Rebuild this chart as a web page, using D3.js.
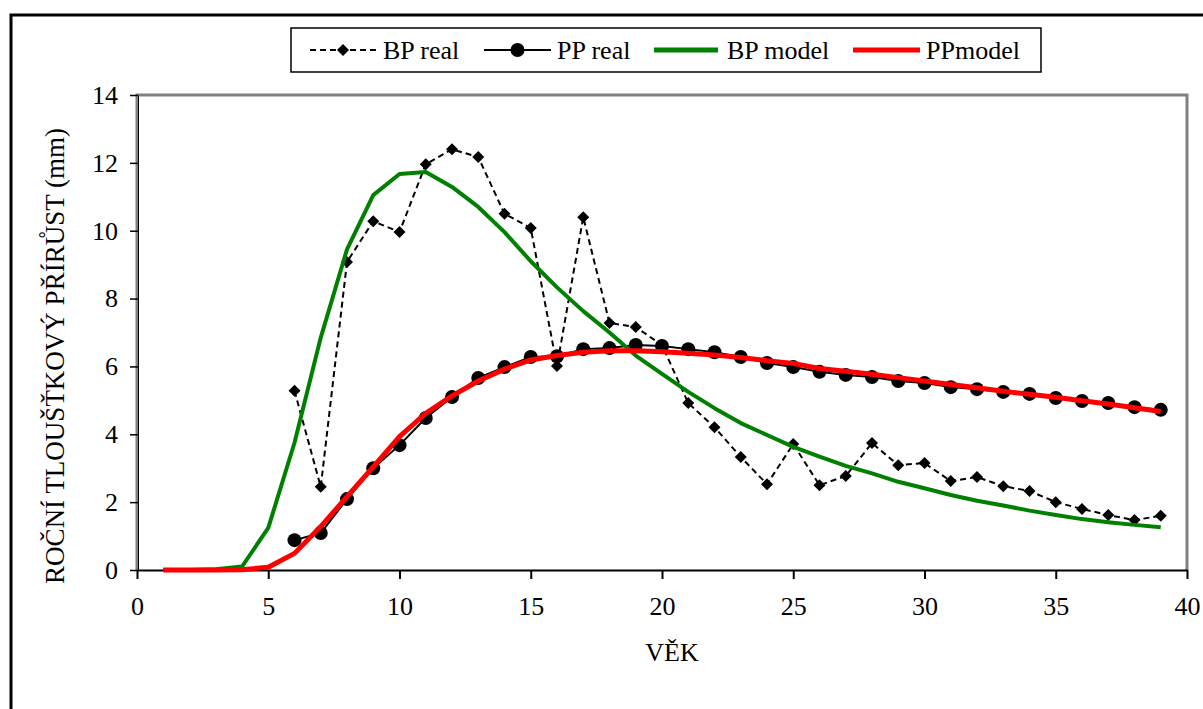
<meta charset="utf-8">
<script src="https://d3js.org/d3.v7.js"></script>
<div id="chart"></div>
<script>
// data
var realAges = [6,7,8,9,10,11,12,13,14,15,16,17,18,19,20,21,22,23,24,25,26,27,28,29,30,31,32,33,34,35,36,37,38,39];
var bpReal = [5.28,2.45,9.08,10.28,9.96,11.96,12.4,12.17,10.5,10.08,6.01,10.4,7.28,7.16,6.63,4.92,4.21,3.33,2.53,3.71,2.5,2.77,3.74,3.09,3.15,2.62,2.74,2.47,2.33,2.0,1.8,1.62,1.47,1.6];
var ppReal = [0.88,1.09,2.09,3.0,3.68,4.48,5.1,5.66,5.98,6.28,6.3,6.51,6.54,6.63,6.6,6.51,6.42,6.28,6.1,5.98,5.84,5.75,5.69,5.57,5.51,5.39,5.33,5.25,5.19,5.07,4.98,4.92,4.8,4.72];

var modelAges = [1,2,3,4,5,6,7,8,9,10,11,12,13,14,15,16,17,18,19,20,21,22,23,24,25,26,27,28,29,30,31,32,33,34,35,36,37,38,39];
var bpModel = [0,0,0.02,0.1,1.24,3.75,6.85,9.45,11.05,11.67,11.73,11.29,10.7,9.96,9.1,8.33,7.63,7.0,6.32,5.78,5.25,4.77,4.33,3.98,3.63,3.34,3.07,2.85,2.6,2.41,2.21,2.04,1.9,1.75,1.62,1.5,1.41,1.33,1.26];
var ppModel = [0,0,0,0.01,0.08,0.49,1.28,2.16,3.04,3.93,4.62,5.13,5.57,5.92,6.19,6.32,6.42,6.46,6.46,6.43,6.39,6.34,6.26,6.17,6.09,5.94,5.86,5.77,5.67,5.57,5.47,5.37,5.27,5.18,5.09,4.99,4.89,4.78,4.67];

var xTicks = [0,5,10,15,20,25,30,35,40];
var yTicks = [0,2,4,6,8,10,12,14];

var legendNames = ["BP real", "PP real", "BP model", "PPmodel"];

d3.select("body").style("margin", "0px");

var svg = d3.select("#chart")
    .append("svg")
    .attr("width", 1203)
    .attr("height", 709)
    .style("display", "block");

// outer frame
svg.append("rect")
    .attr("x", 11).attr("y", 15)
    .attr("width", 1300).attr("height", 800)
    .attr("fill", "white")
    .attr("stroke", "black")
    .attr("stroke-width", 3);

var x = d3.scaleLinear().domain([0, 40]).range([137, 1187]);
var y = d3.scaleLinear().domain([0, 14]).range([570, 95]);

// plot area border (grey)
svg.append("path")
    .attr("d", "M" + x(0) + "," + y(0) + "V" + y(14) + "H" + x(40) + "V" + y(0))
    .attr("fill", "none")
    .attr("stroke", "#808080")
    .attr("stroke-width", 3);

// axes
var xAxis = svg.append("g")
    .attr("transform", "translate(0," + y(0) + ")")
    .call(d3.axisBottom(x).tickValues(xTicks).tickSize(9).tickPadding(18).tickSizeOuter(0));
xAxis.select(".domain").attr("stroke-width", 2);
xAxis.selectAll(".tick line").attr("stroke-width", 2);

var yAxis = svg.append("g")
    .attr("transform", "translate(" + (x(0) + 1) + ",0)")
    .call(d3.axisLeft(y).tickValues(yTicks).tickSize(8).tickPadding(12).tickSizeOuter(0));
yAxis.selectAll(".tick line").attr("stroke-width", 1.5);

var diamond = d3.symbol().type(d3.symbolSquare).size(72);
var line = d3.line().x(function(d) { return x(d.age); }).y(function(d) { return y(d.v); });

var bpRows = realAges.map(function(a, i) { return {age: a, v: bpReal[i]}; });
var ppRows = realAges.map(function(a, i) { return {age: a, v: ppReal[i]}; });

// BP real
svg.append("path")
    .datum(bpRows)
    .attr("d", line)
    .attr("fill", "none")
    .attr("stroke", "black")
    .attr("stroke-width", 2)
    .attr("stroke-dasharray", "6,4");
svg.append("g").selectAll("path")
    .data(bpRows)
    .enter()
    .append("path")
    .attr("d", diamond)
    .attr("transform", function(d) { return "translate(" + x(d.age) + "," + y(d.v) + ") rotate(45)"; })
    .attr("fill", "black");

// PP real
svg.append("path")
    .datum(ppRows)
    .attr("d", line)
    .attr("fill", "none")
    .attr("stroke", "black")
    .attr("stroke-width", 2);
svg.append("g").selectAll("circle")
    .data(ppRows)
    .enter()
    .append("circle")
    .attr("cx", function(d) { return x(d.age); })
    .attr("cy", function(d) { return y(d.v); })
    .attr("r", 7)
    .attr("fill", "black");

// models
var bpModelRows = modelAges.map(function(a, i) { return {age: a, v: bpModel[i]}; });
var ppModelRows = modelAges.map(function(a, i) { return {age: a, v: ppModel[i]}; });

svg.append("path")
    .datum(bpModelRows)
    .attr("d", line)
    .attr("fill", "none")
    .attr("stroke", "#008000")
    .attr("stroke-width", 4)
    .attr("stroke-linejoin", "round");
svg.append("path")
    .datum(ppModelRows)
    .attr("d", line)
    .attr("fill", "none")
    .attr("stroke", "#ff0000")
    .attr("stroke-width", 5)
    .attr("stroke-linejoin", "round");

// legend
var legend = svg.append("g");
legend.append("rect")
    .attr("x", 291).attr("y", 28)
    .attr("width", 750).attr("height", 44)
    .attr("fill", "white")
    .attr("stroke", "black")
    .attr("stroke-width", 1.5);

var legendItems = [
    {x0: 310, x1: 376, tx: 383, kind: "bp"},
    {x0: 484, x1: 551, tx: 557, kind: "pp"},
    {x0: 654, x1: 718, tx: 727, kind: "bpm"},
    {x0: 853, x1: 920, tx: 926, kind: "ppm"}
];
var ly = 50;
legendItems.forEach(function(it, i) {
    it.name = legendNames[i];
    var l = legend.append("line")
        .attr("x1", it.x0).attr("x2", it.x1)
        .attr("y1", ly).attr("y2", ly);
    if (it.kind == "bp") {
        l.attr("stroke", "black").attr("stroke-width", 2).attr("stroke-dasharray", "6,4");
        legend.append("path").attr("d", diamond)
            .attr("transform", "translate(" + (it.x0 + it.x1) / 2 + "," + ly + ") rotate(45)");
    } else if (it.kind == "pp") {
        l.attr("stroke", "black").attr("stroke-width", 2);
        legend.append("circle").attr("cx", (it.x0 + it.x1) / 2).attr("cy", ly).attr("r", 7);
    } else if (it.kind == "bpm") {
        l.attr("stroke", "#008000").attr("stroke-width", 5);
    } else {
        l.attr("stroke", "#ff0000").attr("stroke-width", 5);
    }
});
legend.selectAll("text.leg")
    .data(legendItems)
    .enter()
    .append("text")
    .attr("class", "leg")
    .attr("x", function(d) { return d.tx; })
    .attr("y", ly + 9)
    .text(function(d) { return d.name; });

// axis titles
svg.append("text")
    .attr("class", "xtitle")
    .attr("x", 672).attr("y", 661)
    .attr("text-anchor", "middle")
    .text("VĚK");

// one font for every text, set at the end
svg.selectAll("text")
    .attr("font-size", 26)
    .attr("fill", "black")
    .style("font-family", "'Liberation Serif'");

svg.append("text")
    .attr("transform", "translate(64,356) rotate(-90)")
    .attr("text-anchor", "middle")
    .attr("font-size", 27)
    .style("font-family", "'Liberation Serif'")
    .text("ROČNÍ TLOUŠŤKOVÝ PŘÍRŮST (mm)");
</script>
